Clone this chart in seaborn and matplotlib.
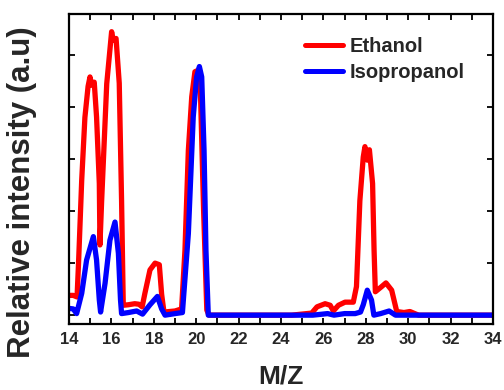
import matplotlib
matplotlib.use("Agg")
import matplotlib.pyplot as plt
import seaborn as sns
import pandas as pd
from matplotlib.ticker import MultipleLocator

sns.set_style("white")
plt.rcParams['font.family'] = ['Liberation Sans', 'DejaVu Sans']
plt.rcParams['font.weight'] = 'bold'

# Ethanol spectrum
eth_x = [14.0, 14.2, 14.38, 14.45, 14.6, 14.75, 14.9, 14.99, 15.07, 15.19, 15.3, 15.43, 15.46,
         15.54, 15.78, 16.01, 16.09, 16.22, 16.37, 16.48, 16.56, 16.8, 17.1, 17.3,
         17.45, 17.58, 17.82, 18.06, 18.26, 18.37, 18.48, 19.0, 19.31, 19.47, 19.63,
         19.79, 19.94, 20.05, 20.2, 20.35, 20.5, 20.6, 24.5, 25.45, 25.7, 26.08,
         26.32, 26.47, 26.71, 27.02, 27.41, 27.56, 27.72, 27.88, 27.96, 28.07, 28.17,
         28.32, 28.39, 28.45, 28.75, 28.95, 29.22, 29.46, 29.8, 30.08, 30.37, 30.5, 34.0]
eth_y = [0.38, 0.38, 0.35, 1.0, 2.6, 3.8, 4.4, 4.58, 4.42, 4.48, 3.81, 2.53, 1.35,
         2.2, 4.45, 5.45, 5.29, 5.32, 4.46, 2.2, 0.19, 0.2, 0.22, 0.21,
         0.16, 0.42, 0.87, 1.0, 0.97, 0.4, 0.06, 0.08, 0.12, 1.25, 3.17,
         4.2, 4.68, 4.7, 4.3, 2.0, 0.1, 0.0, 0.0, 0.04, 0.16, 0.22,
         0.19, 0.08, 0.19, 0.25, 0.25, 0.55, 2.2, 3.04, 3.24, 2.98, 3.18,
         2.53, 1.25, 0.45, 0.55, 0.62, 0.48, 0.07, 0.05, 0.07, 0.02, 0.0, 0.0]

# Isopropanol spectrum
iso_x = [14.0, 14.2, 14.36, 14.6, 14.83, 15.15, 15.3, 15.43, 15.49, 15.7, 15.93,
         16.17, 16.33, 16.43, 16.48, 16.8, 17.19, 17.47, 17.82, 18.17, 18.37, 18.53,
         19.0, 19.35, 19.63, 19.86, 20.02, 20.15, 20.26, 20.37, 20.46, 20.57, 25.5,
         26.2, 26.5, 27.0, 27.5, 27.75, 27.88, 28.07, 28.27, 28.38, 28.7, 29.1,
         29.4, 34.0]
iso_y = [0.13, 0.12, 0.03, 0.42, 1.06, 1.51, 1.06, 0.29, 0.06, 0.61, 1.44,
         1.79, 1.19, 0.29, 0.03, 0.05, 0.08, 0.02, 0.2, 0.36, 0.12, 0.0,
         0.03, 0.05, 1.57, 3.81, 4.58, 4.78, 4.58, 3.17, 1.25, 0.0, 0.0,
         0.03, 0.0, 0.03, 0.03, 0.06, 0.2, 0.48, 0.29, 0.0, 0.03, 0.08,
         0.0, 0.0]

series_names = ["Ethanol", "Isopropanol"]
series_colors = ["#ff0000", "#0000ff"]
x_ticks = [14, 16, 18, 20, 22, 24, 26, 28, 30, 32, 34]

df = pd.concat([
    pd.DataFrame({"mz": eth_x, "val": eth_y, "s": series_names[0]}),
    pd.DataFrame({"mz": iso_x, "val": iso_y, "s": series_names[1]}),
])

fig = plt.figure(figsize=(5.04, 3.90), dpi=100)
ax = fig.add_axes([69/504, 1-324/390, (493-69)/504, (324-14)/390])

sns.lineplot(data=df, x="mz", y="val", hue="s", palette=series_colors,
             linewidth=3.8, sort=False, estimator=None, ax=ax,
             solid_joinstyle='round', solid_capstyle='round')

ax.set_xlim(14, 34)
ax.set_ylim(-0.17, 5.79)
ax.set_xticks(x_ticks)
ax.set_xticklabels([str(t) for t in x_ticks])
ax.xaxis.set_minor_locator(MultipleLocator(1))
ax.set_yticks([0, 1, 2, 3, 4, 5])
ax.set_yticklabels([])

ax.tick_params(axis='both', which='both', direction='in', top=True, right=True,
               bottom=True, left=True, length=4, width=1.3, color='black')
ax.tick_params(axis='x', which='major', labelsize=12, pad=6)
for lbl in ax.get_xticklabels():
    lbl.set_fontweight('bold')

for sp in ax.spines.values():
    sp.set_linewidth(1.6)
    sp.set_color('black')

ax.set_xlabel("M/Z", fontsize=19, fontweight='bold', labelpad=12)
ax.set_ylabel("Relative intensity (a.u)", fontsize=22.5, fontweight='bold')
ax.yaxis.set_label_coords((37-69)/424, (324-192)/310)

leg = ax.legend(loc='upper left', bbox_to_anchor=((305-69)/424, (324-37)/310),
                frameon=False, borderpad=0,
                prop={'size': 14.5, 'weight': 'bold'}, handlelength=1.9,
                handletextpad=0.3, labelspacing=0.35, borderaxespad=0)
for line in leg.get_lines():
    line.set_linewidth(3.6)

fig.savefig("out.png", dpi=100)
